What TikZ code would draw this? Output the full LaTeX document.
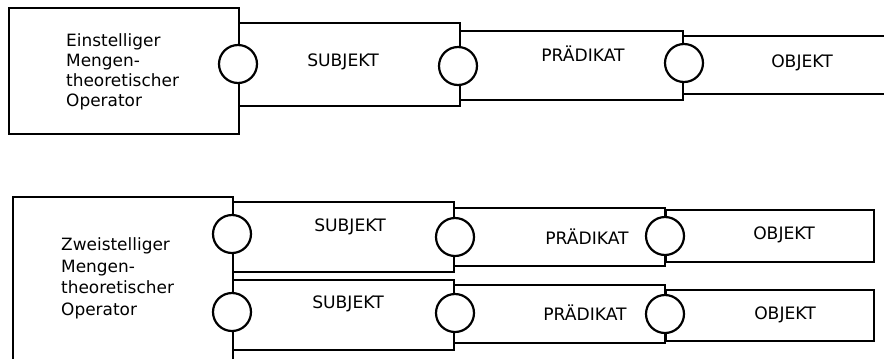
\documentclass[tikz,border=0pt]{standalone}
\usepackage{fontspec}
\setmainfont{DejaVu Sans}
\begin{document}
\begin{tikzpicture}[x=1bp,y=-1bp,
  frame/.style={draw=black, line width=2.2bp, fill=white, inner sep=0pt},
  joint/.style={circle, draw=black, line width=2.2bp, fill=white, minimum size=38bp, inner sep=0pt},
  word/.style={inner sep=0pt, font=\fontsize{17.2}{20}\selectfont},
  optext/.style={inner sep=0pt, align=left, anchor=west}]
\useasboundingbox (0,0) rectangle (884,358);
\clip (0,0) rectangle (884,358);

% --- one-place operator ---
\node[frame, minimum width=230bp, minimum height=126bp, anchor=north west] (op1) at (8,7) {};
\node[frame, minimum width=221bp, minimum height=83bp, anchor=north west] (s1) at (238,22) {};
\node[frame, minimum width=223bp, minimum height=69bp, anchor=north west] (p1) at (459,30) {};
\node[frame, minimum width=230bp, minimum height=58bp, anchor=north west] (o1) at (682,35) {};
\node[joint] (c1a) at (238,64) {};
\node[joint] (c1b) at (458,66) {};
\node[joint] (c1c) at (684,63) {};
\node[optext, font=\fontsize{17}{20}\selectfont] (t1) at (66,72)
  {Einstelliger\\Mengen-\\theoretischer\\Operator};
\node[word] (ls1) at (343,62) {SUBJEKT};
\node[word] (lp1) at (583,54) {PRÄDIKAT};
\node[word] (lo1) at (802,63) {OBJEKT};

% --- two-place operator ---
\node[frame, minimum width=220bp, minimum height=180bp, anchor=north west] (op2) at (12,196) {};
\node[frame, minimum width=221bp, minimum height=70bp, anchor=north west] (s2a) at (232,201) {};
\node[frame, minimum width=221bp, minimum height=70bp, anchor=north west] (s2b) at (232,279) {};
\node[frame, minimum width=211bp, minimum height=58bp, anchor=north west] (p2a) at (453,207) {};
\node[frame, minimum width=211bp, minimum height=58bp, anchor=north west] (p2b) at (453,284) {};
\node[frame, minimum width=208bp, minimum height=52bp, anchor=north west] (o2a) at (665,209) {};
\node[frame, minimum width=208bp, minimum height=51bp, anchor=north west] (o2b) at (665,289) {};
\node[joint] (c2a) at (232,234) {};
\node[joint] (c2b) at (232,312) {};
\node[joint] (c2c) at (455,237) {};
\node[joint] (c2d) at (455,313) {};
\node[joint] (c2e) at (665,236) {};
\node[joint] (c2f) at (665,314) {};
\node[optext, font=\fontsize{17}{21.7}\selectfont] (t2) at (61,278.5)
  {Zweistelliger\\Mengen-\\theoretischer\\Operator};
\node[word] (ls2a) at (350,227) {SUBJEKT};
\node[word] (ls2b) at (348,304) {SUBJEKT};
\node[word] (lp2a) at (587,237) {PRÄDIKAT};
\node[word] (lp2b) at (585,313) {PRÄDIKAT};
\node[word] (lo2a) at (784,235) {OBJEKT};
\node[word] (lo2b) at (785,315) {OBJEKT};
\end{tikzpicture}
\end{document}
